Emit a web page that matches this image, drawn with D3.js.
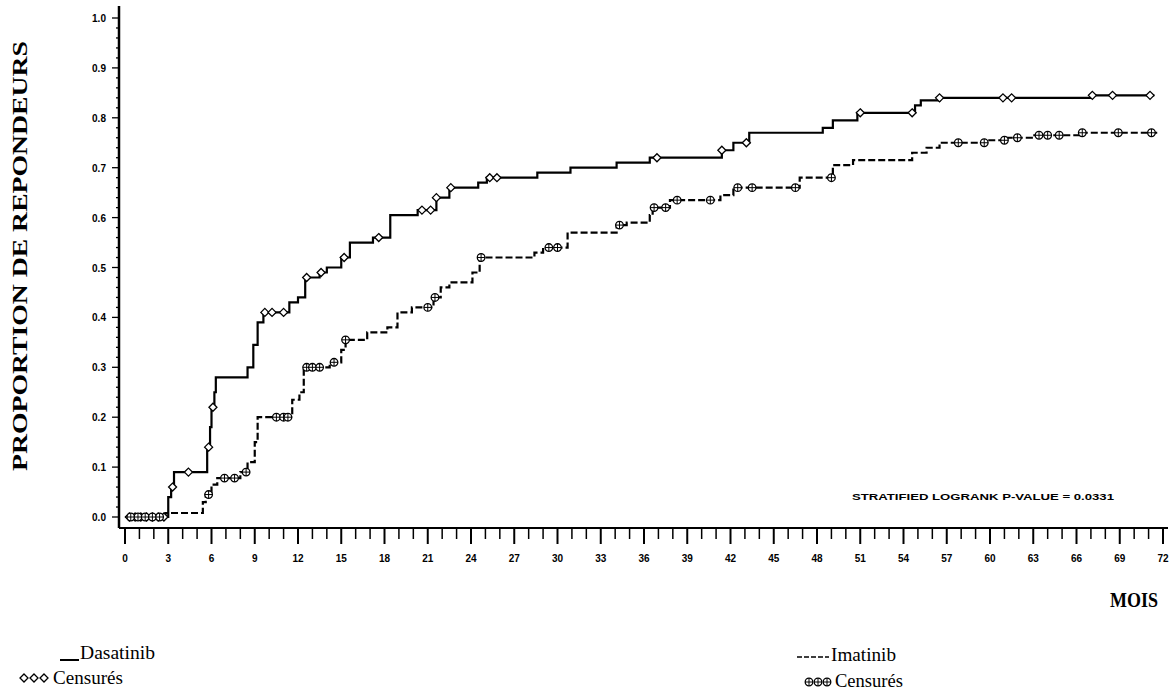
<!DOCTYPE html>
<html><head><meta charset="utf-8">
<script src="https://cdn.jsdelivr.net/npm/d3@7"></script>
<style>body{margin:0;background:#fff}svg{display:block}</style>
</head><body>
<script>
// ---- data ----
const xTicks = d3.range(0, 73, 3);
const yTicks = [0, 0.1, 0.2, 0.3, 0.4, 0.5, 0.6, 0.7, 0.8, 0.9, 1.0];
const yTickLabels = ["0.0","0.1","0.2","0.3","0.4","0.5","0.6","0.7","0.8","0.9","1.0"];
// Dasatinib: step times (months) and proportion after the step
const dasaTime = [0,3.0,3.2,3.4,5.7,5.9,6.0,6.2,6.3,8.5,8.9,9.2,9.6,11.4,12.0,12.5,13.5,14.0,15.0,15.6,17.2,18.4,20.3,21.6,22.5,24.5,25.1,28.6,30.9,34.1,36.4,41.4,42.2,43.3,48.4,49.1,50.8,54.8,55.2,56.5,67.0,71.4];
const dasaProp = [0,0.04,0.06,0.09,0.14,0.18,0.22,0.25,0.28,0.30,0.345,0.39,0.41,0.43,0.44,0.48,0.49,0.50,0.52,0.55,0.56,0.605,0.615,0.64,0.66,0.67,0.68,0.69,0.70,0.71,0.72,0.735,0.75,0.77,0.78,0.795,0.81,0.825,0.835,0.84,0.845,0.845];
const dasaCens = [0.3,0.7,1.1,1.5,1.9,2.3,2.7,3.3,4.4,5.8,6.1,9.7,10.2,11.0,12.6,13.6,15.2,17.6,20.6,21.2,21.6,22.6,25.3,25.8,36.9,41.4,43.1,51.0,54.6,56.5,60.9,61.5,67.1,68.5,71.1];
// Imatinib
const imaTime = [0,2.8,5.4,5.6,6.0,6.4,8.0,8.5,9.0,9.2,11.6,12.1,12.4,14.2,15.0,15.3,16.8,18.2,18.9,19.9,21.4,21.9,22.5,24.1,24.6,28.4,29.0,30.7,34.1,34.8,36.4,36.6,37.8,41.3,42.2,46.8,49.1,50.5,54.6,55.6,56.5,59.8,61.2,62.9,66.4,71.6];
const imaProp = [0,0.008,0.03,0.045,0.065,0.078,0.09,0.11,0.15,0.20,0.235,0.25,0.30,0.31,0.335,0.355,0.37,0.38,0.41,0.42,0.44,0.46,0.47,0.49,0.52,0.53,0.54,0.57,0.585,0.59,0.605,0.62,0.635,0.645,0.66,0.68,0.705,0.715,0.73,0.74,0.75,0.755,0.76,0.765,0.77,0.77];
const imaCens = [0.4,0.9,1.4,1.9,2.4,5.8,6.9,7.6,8.4,10.5,11.0,11.3,12.6,13.0,13.5,14.5,15.3,21.0,21.5,24.7,29.4,30.0,34.3,36.7,37.5,38.3,40.6,42.5,43.5,46.5,49.0,57.8,59.6,61.0,61.9,63.4,64.0,64.8,66.4,68.9,71.2];
const labels = {y:"PROPORTION DE REPONDEURS", x:"MOIS", note:"STRATIFIED LOGRANK P-VALUE = 0.0331",
  s1:"Dasatinib", s2:"Imatinib", cens:"Censurés"};

// ---- drawing ----
const W=1175,H=695;
const svg=d3.select("body").append("svg").attr("width",W).attr("height",H);
const x=d3.scaleLinear().domain([0,72]).range([125,1163]);
const y=d3.scaleLinear().domain([0,1]).range([517,18]);
const serif="'Liberation Serif','Times New Roman',serif";
const sans="'Liberation Sans',Arial,sans-serif";

function stepAt(times, props, t){ let v=0; for(let i=0;i<times.length;i++){ if(times[i]<=t) v=props[i]; } return v; }

// axes
svg.append("line").attr("x1",119).attr("x2",119).attr("y1",6).attr("y2",528).attr("stroke","#000").attr("stroke-width",2.5);
svg.append("line").attr("x1",119).attr("x2",1168).attr("y1",528).attr("y2",528).attr("stroke","#000").attr("stroke-width",2);
svg.append("g").selectAll("line").data(d3.range(0,73,1)).join("line")
  .attr("x1",d=>x(d)).attr("x2",d=>x(d)).attr("y1",528).attr("y2",d=>d%3===0?544:539)
  .attr("stroke","#000").attr("stroke-width",d=>d%3===0?2:1.5);
svg.append("g").selectAll("text").data(xTicks).join("text")
  .attr("x",d=>x(d)).attr("y",562).attr("text-anchor","middle")
  .attr("font-family",sans).attr("font-size",10).attr("font-weight","bold").text(d=>d);
svg.append("g").selectAll("line").data(d3.range(0,51).map(i=>i/50)).join("line")
  .attr("x1",119).attr("x2",(d,i)=>i%5===0?112:116).attr("y1",d=>y(d)).attr("y2",d=>y(d))
  .attr("stroke","#000").attr("stroke-width",1.3);
svg.append("g").selectAll("text").data(yTicks).join("text")
  .attr("x",99).attr("y",d=>y(d)+4).attr("text-anchor","middle")
  .attr("font-family",sans).attr("font-size",10).attr("font-weight","bold").text((d,i)=>yTickLabels[i]);

// axis titles
svg.append("text").attr("transform","translate(27,256) rotate(-90)").attr("text-anchor","middle")
  .attr("font-family",serif).attr("font-size",22).attr("font-weight","bold")
  .attr("textLength",430).attr("lengthAdjust","spacingAndGlyphs").text(labels.y);
svg.append("text").attr("x",1134).attr("y",607).attr("text-anchor","middle")
  .attr("font-family",serif).attr("font-size",21).attr("font-weight","bold")
  .attr("textLength",48).attr("lengthAdjust","spacingAndGlyphs").text(labels.x);

// curves
const line=d3.line().x(d=>x(d[0])).y(d=>y(d[1])).curve(d3.curveStepAfter);
svg.append("path").datum(dasaTime.map((t,i)=>[t,dasaProp[i]])).attr("d",line)
  .attr("fill","none").attr("stroke","#000").attr("stroke-width",2.2);
svg.append("path").datum(imaTime.map((t,i)=>[t,imaProp[i]])).attr("d",line)
  .attr("fill","none").attr("stroke","#000").attr("stroke-width",2.2).attr("stroke-dasharray","7,3");

// censor markers
const diamondPath="M0,-4L4,0L0,4L-4,0Z";
svg.append("g").selectAll("path").data(dasaCens).join("path")
  .attr("transform",d=>`translate(${x(d)},${y(stepAt(dasaTime,dasaProp,d))})`)
  .attr("d",diamondPath).attr("fill","#fff").attr("stroke","#000").attr("stroke-width",1.3);
const ig=svg.append("g").selectAll("g").data(imaCens).join("g")
  .attr("transform",d=>`translate(${x(d)},${y(stepAt(imaTime,imaProp,d))})`);
ig.append("circle").attr("r",3.8).attr("fill","#fff").attr("stroke","#000").attr("stroke-width",1.3);
ig.append("path").attr("d","M-3.8,0H3.8M0,-3.8V3.8").attr("stroke","#000").attr("stroke-width",1);

// note
svg.append("text").attr("x",852).attr("y",500).attr("font-family",sans).attr("font-size",9).attr("font-weight","bold")
  .attr("textLength",262).attr("lengthAdjust","spacingAndGlyphs").text(labels.note);

// legend
const lg=svg.append("g");
lg.append("line").attr("x1",60).attr("x2",79).attr("y1",660).attr("y2",660).attr("stroke","#000").attr("stroke-width",2);
lg.append("text").attr("x",80).attr("y",659).attr("font-family",serif).attr("font-size",18)
  .attr("textLength",75).attr("lengthAdjust","spacingAndGlyphs").text(labels.s1);
[24,34,44].forEach(px=>lg.append("path").attr("transform",`translate(${px},678)`).attr("d",diamondPath)
  .attr("fill","#fff").attr("stroke","#000").attr("stroke-width",1.3));
lg.append("text").attr("x",53).attr("y",684).attr("font-family",serif).attr("font-size",18)
  .attr("textLength",70).attr("lengthAdjust","spacingAndGlyphs").text(labels.cens);
lg.append("line").attr("x1",797).attr("x2",829).attr("y1",657).attr("y2",657).attr("stroke","#000").attr("stroke-width",1.6).attr("stroke-dasharray","5,2");
lg.append("text").attr("x",831).attr("y",661).attr("font-family",serif).attr("font-size",18)
  .attr("textLength",65).attr("lengthAdjust","spacingAndGlyphs").text(labels.s2);
[809,818,827].forEach(px=>{const g=lg.append("g").attr("transform",`translate(${px},682)`);
  g.append("circle").attr("r",3.8).attr("fill","#fff").attr("stroke","#000").attr("stroke-width",1.3);
  g.append("path").attr("d","M-3.8,0H3.8M0,-3.8V3.8").attr("stroke","#000").attr("stroke-width",1);});
lg.append("text").attr("x",835).attr("y",687).attr("font-family",serif).attr("font-size",18)
  .attr("textLength",68).attr("lengthAdjust","spacingAndGlyphs").text(labels.cens);
</script>
</body></html>
